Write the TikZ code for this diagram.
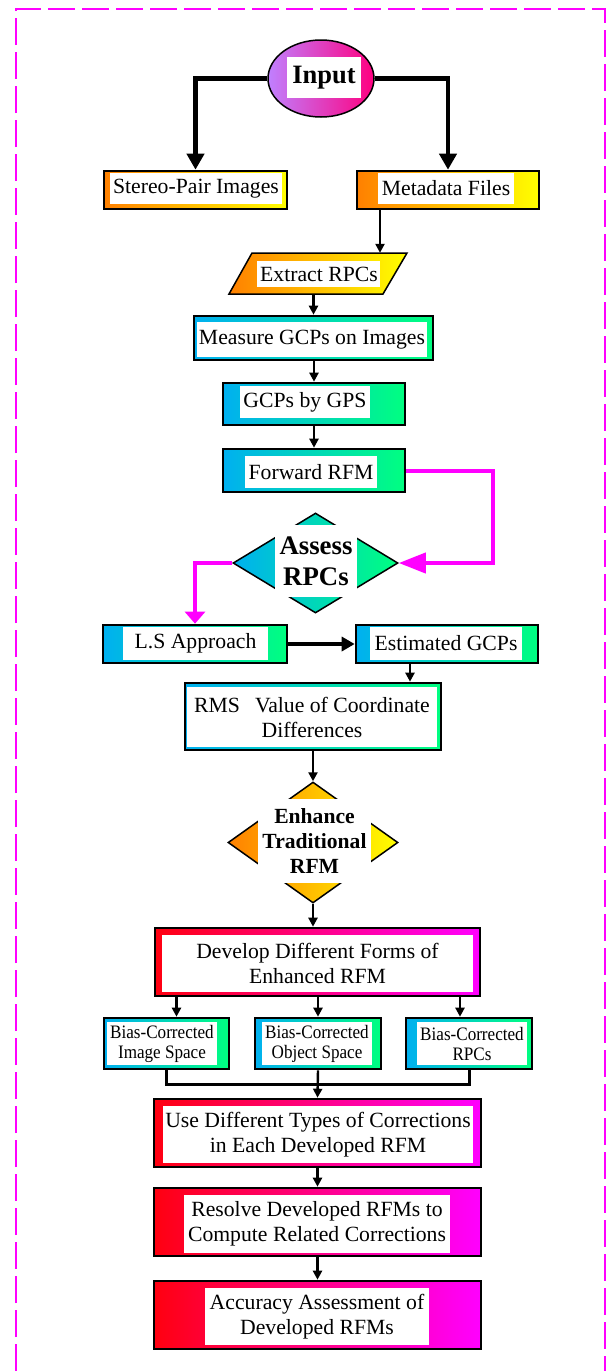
\documentclass[tikz,border=0pt]{standalone}
\usepackage{fontspec}
\setmainfont{Liberation Serif}
\newfontfamily\narrowserif[FakeStretch=0.9]{Liberation Serif}
\usetikzlibrary{shapes.geometric,arrows.meta,calc,fit}
\definecolor{orng}{HTML}{FF8000}
\definecolor{yel}{HTML}{FFFF00}
\definecolor{cy}{HTML}{00B0F0}
\definecolor{gr}{HTML}{00FF80}
\definecolor{rd}{HTML}{FF0010}
\definecolor{mgt}{HTML}{FF00FF}
\definecolor{lv}{HTML}{C080FF}
\definecolor{dp}{HTML}{FF0080}
\newcommand\gb[9]{%
  \node[bx,fit={#2 #3},left color=#6,right color=#7] (#1) {};
  \fill[white] #4 rectangle #5;
  \node[txt,#9] at ($#4!.5!#5$) {#8};
}
\begin{document}
\begin{tikzpicture}[x=1pt,y=-1pt,
  bx/.style={draw=black,line width=2.6pt,inner sep=0pt},
  txt/.style={font=\fontsize{21.7}{25}\selectfont,align=center,inner sep=0pt},
  btxt/.style={font=\fontsize{21.6}{25}\selectfont\bfseries,align=center,inner sep=0pt},
  ntxt/.style={font=\narrowserif\fontsize{19}{20}\selectfont},
  arr/.style={line width=2.4pt,-{Triangle[length=9pt,width=9pt]}},
  ln/.style={line width=3pt},
  thk/.style={line width=4.5pt,-{Triangle[length=16pt,width=17pt]}},
  mg/.style={draw=mgt,line width=4pt}]
\useasboundingbox (0,0) rectangle (608,1371);
% frame
\draw[mgt,line width=2.5pt,dash pattern=on 27pt off 7pt] (16,1371) -- (16,9) -- (605,9) -- (605,1371);
% Input
\node[ellipse,draw,line width=1.5pt,minimum width=106pt,minimum height=77pt,inner sep=0pt,left color=lv,right color=dp] (in) at (321,78.5) {};
\fill[white] (287,57) rectangle (361,98);
\node[btxt,font=\fontsize{26.5}{30}\selectfont\bfseries] at (324,77.5) {Input};
% boxes
\gb{st}{(104,171)}{(287,209)}{(110,173)}{(282,204)}{orng}{yel}{Stereo-Pair Images}{}
\gb{meta}{(357,171)}{(539,209)}{(378,173)}{(514,204)}{orng}{yel}{Metadata Files}{}
% extract (parallelogram)
\node[minimum width=178pt,minimum height=41pt,inner sep=0pt] (ex) at (318,273.5) {};
\shade[draw=black,line width=1.5pt,left color=orng,right color=yel] (252,253) -- (407,253) -- (383,294) -- (229,294) -- cycle;
\fill[white] (257,261) rectangle (380,287);
\node[txt] at (319,274) {Extract RPCs};
\gb{ms}{(194,316)}{(433,360)}{(197,322)}{(427,357)}{cy}{gr}{Measure GCPs on Images}{}
\gb{gps}{(223,383)}{(405,425)}{(240,386)}{(370,418)}{cy}{gr}{GCPs by GPS}{}
\gb{fw}{(223,449)}{(405,492)}{(245,456)}{(377,488)}{cy}{gr}{Forward RFM}{}
% assess
\node[diamond,draw,line width=1.5pt,minimum width=165pt,minimum height=100pt,inner sep=0pt,left color=cy,right color=gr] (as) at (315.5,563) {};
\fill[white] (275,525) rectangle (357,597);
\node[btxt,font=\fontsize{26.8}{31}\selectfont\bfseries] at (316,561) {Assess\\RPCs};
\gb{ls}{(103,625)}{(287,663)}{(123,627)}{(268,660)}{cy}{gr}{L.S Approach}{}
\gb{est}{(356,625)}{(538,663)}{(370,627)}{(522,660)}{cy}{gr}{Estimated GCPs}{}
\gb{rms}{(185,683)}{(441,750)}{(187,687)}{(437,747)}{cy}{gr}{RMS\hspace{15pt}Value of Coordinate\\Differences}{}
% enhance
\node[diamond,draw,line width=1.5pt,minimum width=170pt,minimum height=121pt,inner sep=0pt,left color=orng,right color=yel] (en) at (313,842.5) {};
\fill[white] (258,799) rectangle (371,883);
\node[btxt] at (314.5,841) {Enhance\\Traditional\\RFM};
\gb{dev}{(155,928)}{(480,996)}{(162,935)}{(473,992)}{rd}{mgt}{Develop Different Forms of\\Enhanced RFM}{}
\gb{b1}{(104,1018)}{(229,1069)}{(107,1022)}{(217,1065)}{cy}{gr}{Bias-Corrected\\Image Space}{ntxt}
\gb{b2}{(255,1018)}{(381,1069)}{(262,1022)}{(372,1065)}{cy}{gr}{Bias-Corrected\\Object Space}{ntxt}
\gb{b3}{(406,1018)}{(532,1069)}{(417,1022)}{(527,1065)}{cy}{gr}{Bias-Corrected\\RPCs}{ntxt}
\gb{use}{(154,1099)}{(481,1167)}{(163,1106)}{(473,1163)}{rd}{mgt}{Use Different Types of Corrections\\in Each Developed RFM}{}
\gb{res}{(154,1188)}{(481,1256)}{(184,1195)}{(450,1253)}{rd}{mgt}{Resolve Developed RFMs to\\Compute Related Corrections}{}
\gb{acc}{(154,1281)}{(481,1349)}{(205,1288)}{(429,1345)}{rd}{mgt}{Accuracy Assessment of\\Developed RFMs}{}
% connectors
\draw[thk] (in.west) -| (st.north);
\draw[thk] (in.east) -| (meta.north);
\draw[arr] ([xshift=-68pt]meta.south) -- ([xshift=-68pt]meta.south |- ex.north);
\draw[arr] (ex.south -| ms.north) -- (ms.north);
\draw[arr] (ms.south -| gps.north) -- (gps.north);
\draw[arr] (gps.south) -- (fw.north);
\draw[mg,-{Triangle[length=27pt,width=20pt]}] (fw.east) -- ++(87,0) |- (as.east);
\draw[mg,-{Triangle[length=12pt,width=20pt]}] (as.west) -| (ls.north);
\draw[line width=4pt,-{Triangle[length=13pt,width=14pt]}] (ls.east) -- (est.west);
\draw[arr] ([xshift=-37pt]est.south) -- ([xshift=-37pt]est.south |- rms.north);
\draw[arr] (rms.south) -- (en.north);
\draw[arr] (en.south) -- (en.south |- dev.north);
\draw[arr] ([xshift=10pt]b1.north |- dev.south) -- ([xshift=10pt]b1.north);
\draw[arr] (b2.north |- dev.south) -- (b2.north);
\draw[arr] ([xshift=-9pt]b3.north |- dev.south) -- ([xshift=-9pt]b3.north);
\coordinate (mj) at (318,1084);
\draw[ln] (b1.south) -- (b1.south |- mj) -- (b3.south |- mj) -- (b3.south);
\draw[arr] (b2.south) -- (use.north);
\draw[arr] (use.south) -- (res.north);
\draw[arr] (res.south) -- (acc.north);
\end{tikzpicture}
\end{document}
